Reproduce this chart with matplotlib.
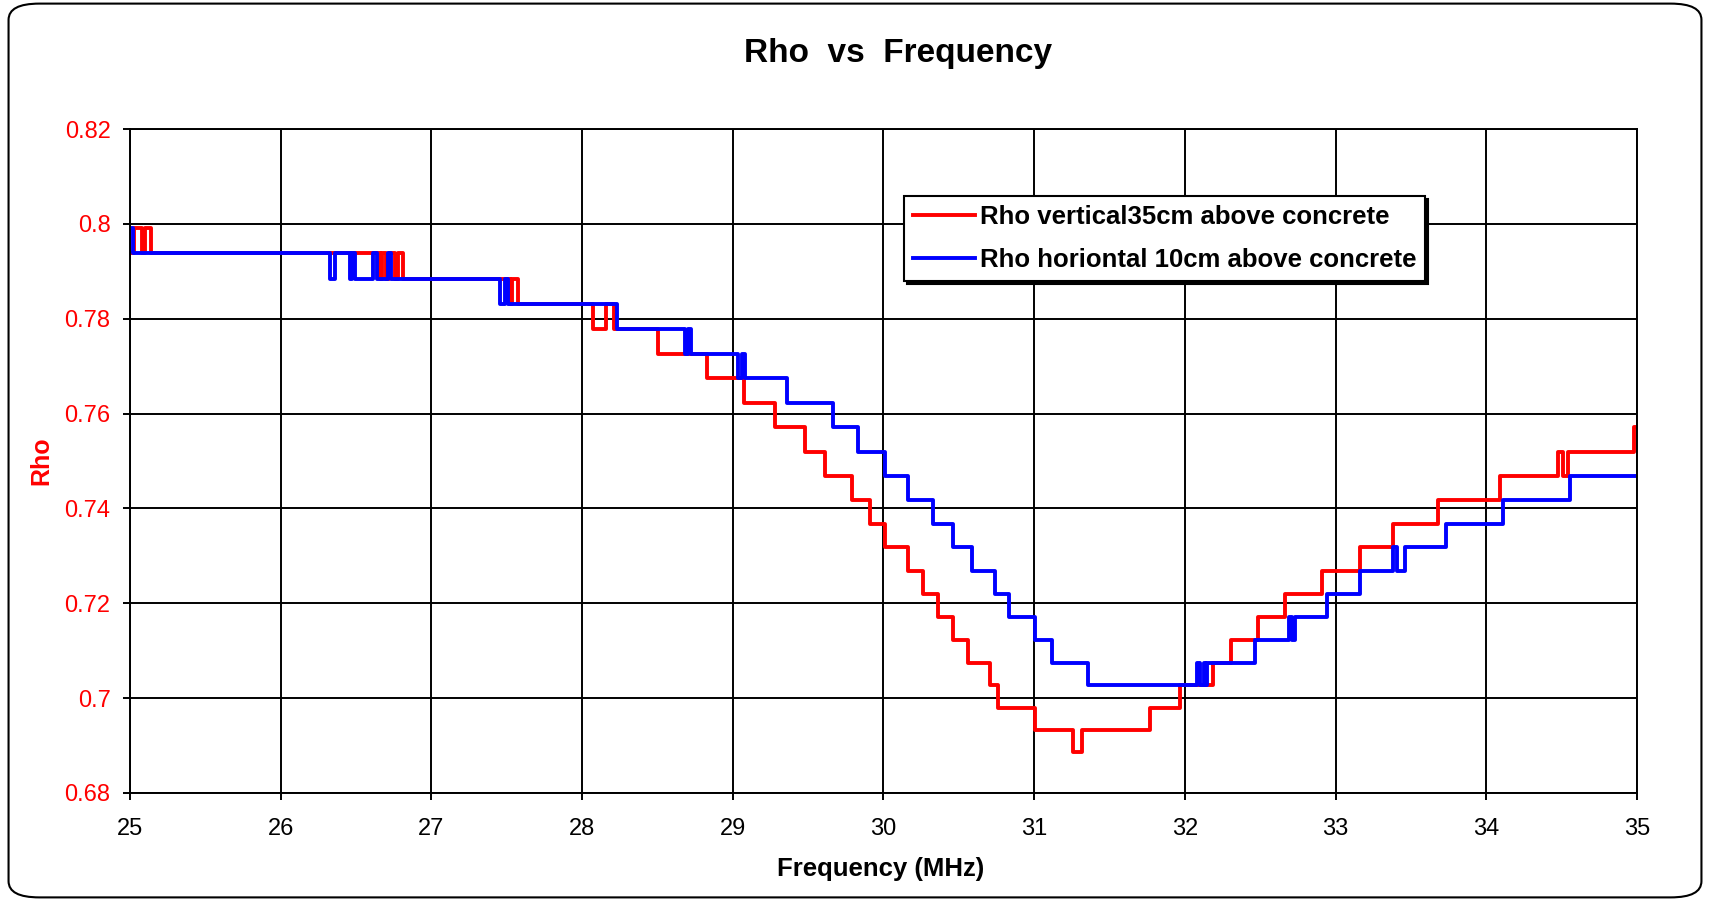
import matplotlib.pyplot as plt
from matplotlib.patches import FancyBboxPatch

plt.rcParams['font.family'] = ['Liberation Sans', 'DejaVu Sans']

# step breakpoints (frequency where the reading starts, rho reading)
red_freq = [25.00, 25.03, 25.08, 25.10, 25.14, 26.66, 26.675, 26.70, 26.72, 26.76,
            26.78, 26.81, 27.52, 27.535, 27.575, 28.075, 28.16, 28.21, 28.506, 28.827,
            29.074, 29.28, 29.479, 29.612, 29.788, 29.91, 30.01, 30.165, 30.265, 30.365,
            30.464, 30.564, 30.708, 30.76, 31.005, 31.26, 31.315, 31.77, 31.97, 32.188,
            32.309, 32.487, 32.664, 32.908, 33.162, 33.383, 33.68, 34.09, 34.478, 34.51,
            34.544, 34.98, 35.0]
red_rho = [0.7938, 0.7992, 0.7938, 0.7992, 0.7938, 0.7884, 0.7938, 0.7884, 0.7938, 0.7884,
           0.7938, 0.7884, 0.7831, 0.7884, 0.7831, 0.7778, 0.7831, 0.7778, 0.7726, 0.7674,
           0.7622, 0.7571, 0.7520, 0.7469, 0.7418, 0.7368, 0.7319, 0.7269, 0.7220, 0.7172,
           0.7123, 0.7075, 0.7028, 0.6980, 0.6933, 0.6886, 0.6933, 0.6980, 0.7028, 0.7075,
           0.7123, 0.7172, 0.7220, 0.7269, 0.7319, 0.7368, 0.7418, 0.7469, 0.7520, 0.7469,
           0.7520, 0.7571, 0.7571]

blue_freq = [25.00, 25.02, 26.327, 26.36, 26.46, 26.475, 26.49, 26.615, 26.64, 26.71,
             26.73, 27.455, 27.49, 27.51, 28.235, 28.683, 28.705, 28.72, 29.037, 29.06,
             29.08, 29.36, 29.662, 29.833, 30.01, 30.165, 30.33, 30.46, 30.585, 30.74,
             30.83, 31.005, 31.116, 31.36, 32.078, 32.10, 32.125, 32.135, 32.15, 32.465,
             32.688, 32.71, 32.73, 32.94, 33.162, 33.383, 33.405, 33.46, 33.736, 34.11,
             34.555, 35.0]
blue_rho = [0.7992, 0.7938, 0.7884, 0.7938, 0.7884, 0.7938, 0.7884, 0.7938, 0.7884, 0.7938,
            0.7884, 0.7831, 0.7884, 0.7831, 0.7778, 0.7726, 0.7778, 0.7726, 0.7674, 0.7726,
            0.7674, 0.7622, 0.7571, 0.7520, 0.7469, 0.7418, 0.7368, 0.7319, 0.7269, 0.7220,
            0.7172, 0.7123, 0.7075, 0.7028, 0.7075, 0.7028, 0.7075, 0.7028, 0.7075, 0.7123,
            0.7172, 0.7123, 0.7172, 0.7220, 0.7269, 0.7319, 0.7269, 0.7319, 0.7368, 0.7418,
            0.7469, 0.7469]

x_ticks = [25, 26, 27, 28, 29, 30, 31, 32, 33, 34, 35]
y_ticks = [0.68, 0.70, 0.72, 0.74, 0.76, 0.78, 0.80, 0.82]
y_labels = ['0.68', '0.7', '0.72', '0.74', '0.76', '0.78', '0.8', '0.82']

fig = plt.figure(figsize=(17.1, 9.01), dpi=100)
ax = fig.add_axes([0.076, 0.1199, 0.8813, 0.7369])

ax.step(red_freq, red_rho, where='post', color='#ff0000', lw=2.8,
        label='Rho vertical35cm above concrete')
ax.step(blue_freq, blue_rho, where='post', color='#0000ff', lw=2.8,
        label='Rho horiontal 10cm above concrete')

ax.set_xlim(25, 35)
ax.set_ylim(0.68, 0.82)
ax.set_xticks(x_ticks)
ax.set_yticks(y_ticks)
ax.set_yticklabels(y_labels)
ax.grid(True, color='black', lw=1.4)
ax.set_axisbelow(True)
ax.tick_params(axis='both', direction='out', length=5, width=1.4, labelsize=17)
ax.tick_params(axis='x', pad=13)
ax.tick_params(axis='y', pad=9, labelcolor='#ff0000')
for sp in ax.spines.values():
    sp.set_linewidth(1.4)

fig.text(0.525, 0.941, 'Rho  vs  Frequency', ha='center', va='center',
         fontsize=24, fontweight='bold')
fig.text(0.515, 0.0355, 'Frequency (MHz)', ha='center', va='center',
         fontsize=18.5, fontweight='bold')
fig.text(0.0243, 0.489, 'Rho', ha='center', va='center', rotation=90,
         fontsize=18, fontweight='bold', color='#ff0000')

leg = ax.legend(loc='upper left', bbox_to_anchor=(0.5136, 0.899), borderaxespad=0,
                fancybox=False, edgecolor='black', framealpha=1,
                shadow={'color': 'black', 'alpha': 1},
                prop={'size': 18.5, 'weight': 'bold'}, handlelength=2.4,
                handletextpad=0.2, labelspacing=0.75, borderpad=0.35)
leg.get_frame().set_linewidth(1.5)

border = FancyBboxPatch((0.005, 0.004), 0.99, 0.992, transform=fig.transFigure,
                        boxstyle='round,pad=0,rounding_size=0.018',
                        edgecolor='black', facecolor='none', lw=1.5)
fig.patches.append(border)

fig.savefig('out.png', dpi=100)
